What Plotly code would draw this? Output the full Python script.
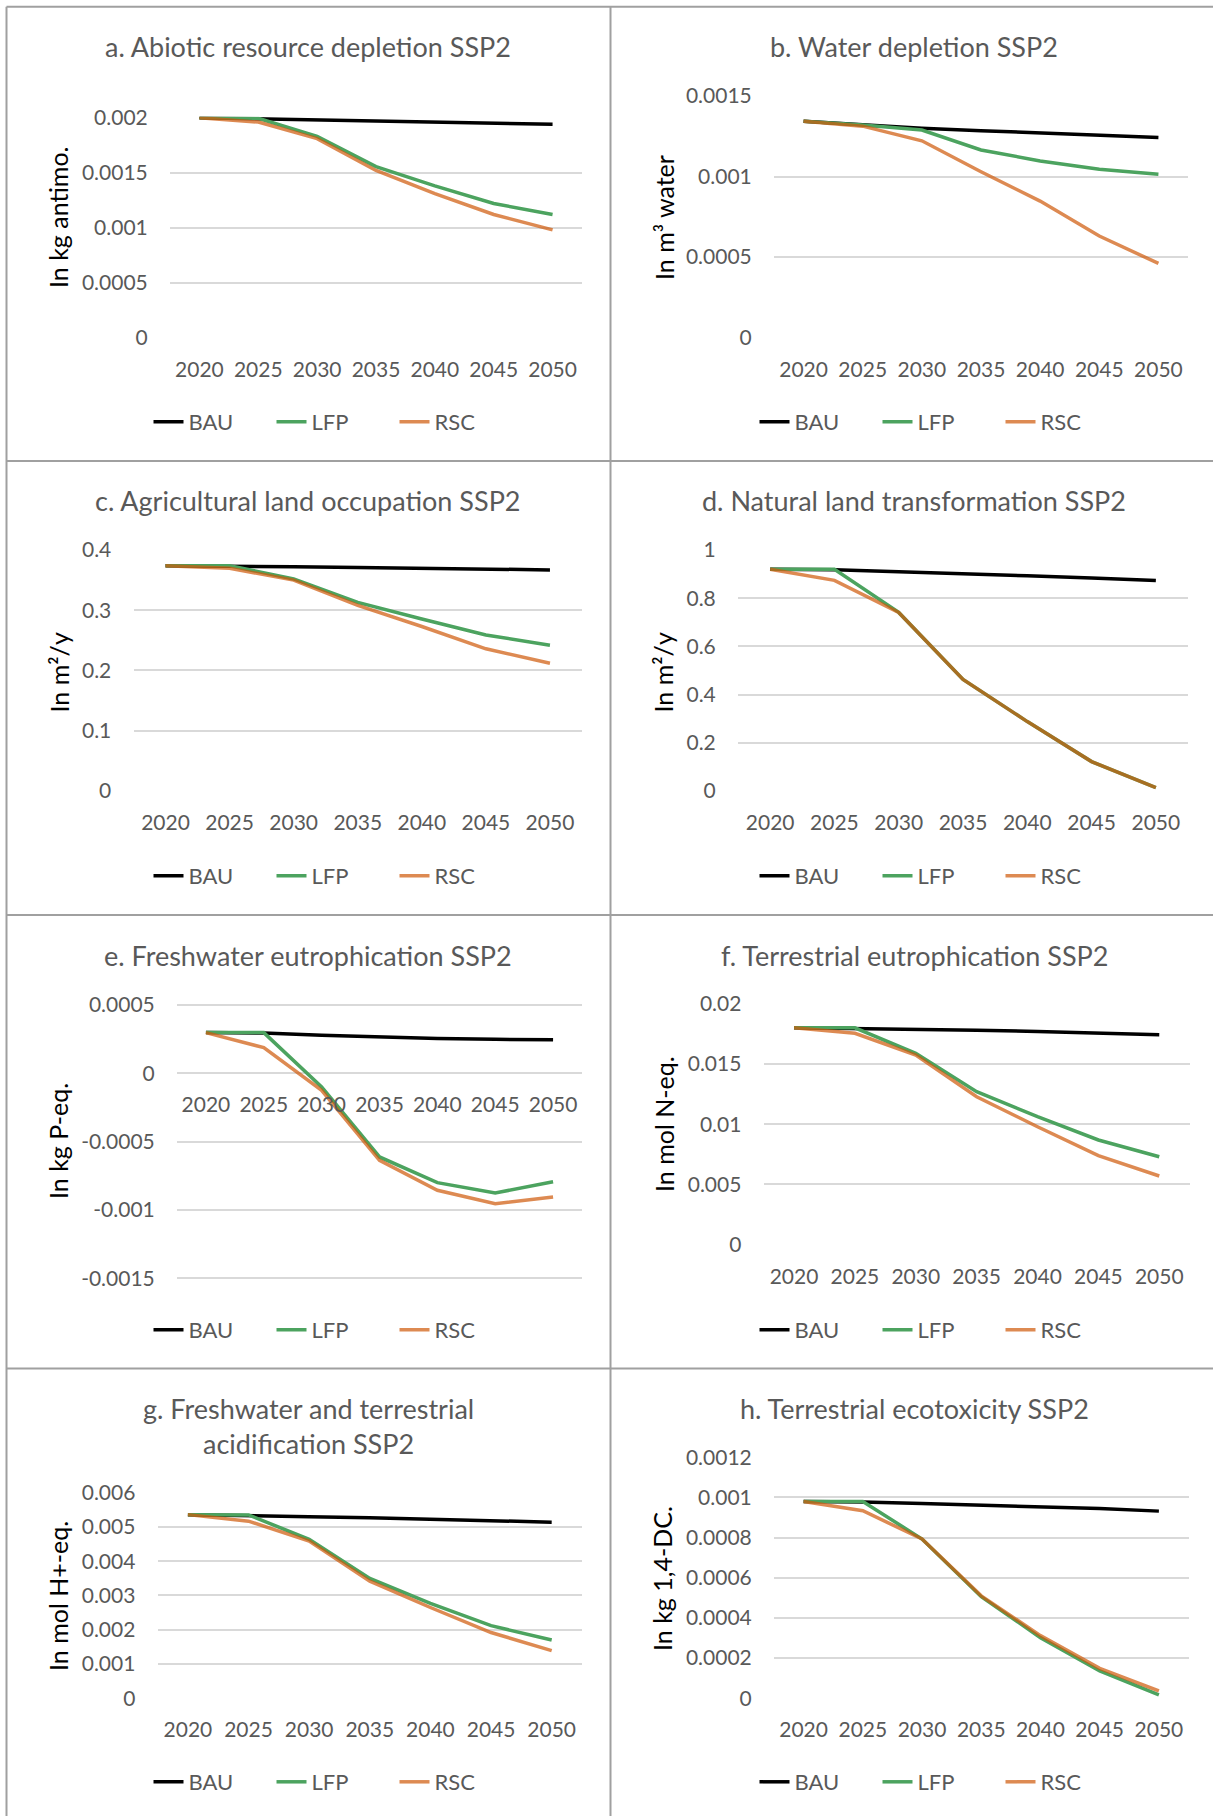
import plotly.graph_objects as go

# ---------------- data ----------------
years = ["2020", "2025", "2030", "2035", "2040", "2045", "2050"]
series_names = ["BAU", "LFP", "RSC"]

a_bau = [0.002, 0.00199, 0.00198, 0.00197, 0.00196, 0.00195, 0.00194]
a_lfp = [0.002, 0.001995, 0.00183, 0.001555, 0.00138, 0.00122, 0.00112]
a_rsc = [0.002, 0.00196, 0.00181, 0.00152, 0.00131, 0.00112, 0.00098]

b_bau = [0.001343, 0.001322, 0.0013, 0.001285, 0.001272, 0.001256, 0.001243]
b_lfp = [0.001343, 0.00132, 0.001289, 0.001165, 0.001097, 0.001045, 0.001014]
b_rsc = [0.001343, 0.001313, 0.001222, 0.00103, 0.000848, 0.000631, 0.000461]

c_bau = [0.374, 0.3735, 0.372, 0.371, 0.3695, 0.3685, 0.367]
c_lfp = [0.374, 0.374, 0.352, 0.313, 0.2855, 0.259, 0.242]
c_rsc = [0.374, 0.3696, 0.35, 0.308, 0.273, 0.236, 0.212]

d_bau = [0.92, 0.918, 0.91, 0.90, 0.893, 0.884, 0.873]
d_lfp = [0.92, 0.92, 0.741, 0.463, 0.288, 0.122, 0.014]
d_rsc = [0.92, 0.874, 0.741, 0.463, 0.288, 0.122, 0.014]

e_bau = [0.000298, 0.000295, 0.000278, 0.000263, 0.000254, 0.000249, 0.000246]
e_lfp = [0.000298, 0.000298, -0.0001, -0.000612, -0.0008, -0.000876, -0.000793]
e_rsc = [0.000298, 0.000188, -0.000124, -0.000637, -0.000856, -0.000954, -0.000905]

f_bau = [0.018, 0.01795, 0.0179, 0.0178, 0.0177, 0.01755, 0.01743]
f_lfp = [0.018, 0.018, 0.01588, 0.0127, 0.01062, 0.00869, 0.0073]
f_rsc = [0.018, 0.01754, 0.01574, 0.01228, 0.00979, 0.00739, 0.0057]

g_bau = [0.00536, 0.00534, 0.0053, 0.00527, 0.00523, 0.00519, 0.00514]
g_lfp = [0.00536, 0.00535, 0.00464, 0.0035, 0.00277, 0.00212, 0.0017]
g_rsc = [0.00536, 0.00517, 0.00459, 0.00342, 0.00265, 0.00192, 0.00139]

h_bau = [0.00098, 0.000978, 0.00097, 0.000962, 0.000955, 0.000945, 0.000932]
h_lfp = [0.00098, 0.00098, 0.000793, 0.000506, 0.000302, 0.000136, 0.0000166]
h_rsc = [0.00098, 0.000934, 0.000793, 0.00051, 0.000312, 0.000149, 0.0000365]

a_ticks = [0, 0.0005, 0.001, 0.0015, 0.002]
a_labels = ["0", "0.0005", "0.001", "0.0015", "0.002"]
b_ticks = [0, 0.0005, 0.001, 0.0015]
b_labels = ["0", "0.0005", "0.001", "0.0015"]
c_ticks = [0, 0.1, 0.2, 0.3, 0.4]
c_labels = ["0", "0.1", "0.2", "0.3", "0.4"]
d_ticks = [0, 0.2, 0.4, 0.6, 0.8, 1]
d_labels = ["0", "0.2", "0.4", "0.6", "0.8", "1"]
e_ticks = [-0.0015, -0.001, -0.0005, 0, 0.0005]
e_labels = ["-0.0015", "-0.001", "-0.0005", "0", "0.0005"]
f_ticks = [0, 0.005, 0.01, 0.015, 0.02]
f_labels = ["0", "0.005", "0.01", "0.015", "0.02"]
g_ticks = [0, 0.001, 0.002, 0.003, 0.004, 0.005, 0.006]
g_labels = ["0", "0.001", "0.002", "0.003", "0.004", "0.005", "0.006"]
h_ticks = [0, 0.0002, 0.0004, 0.0006, 0.0008, 0.001, 0.0012]
h_labels = ["0", "0.0002", "0.0004", "0.0006", "0.0008", "0.001", "0.0012"]

titles = [
    "a. Abiotic resource depletion SSP2",
    "b. Water depletion SSP2",
    "c. Agricultural land occupation SSP2",
    "d. Natural land transformation SSP2",
    "e. Freshwater eutrophication SSP2",
    "f. Terrestrial eutrophication SSP2",
    "g. Freshwater and terrestrial<br>acidification SSP2",
    "h. Terrestrial ecotoxicity SSP2",
]
y_titles = [
    "In kg antimo.", "In m³ water", "In m²/y", "In m²/y",
    "In kg P-eq.", "In mol N-eq.", "In mol H+-eq.", "In kg 1,4-DC.",
]

data_sets = [
    (a_bau, a_lfp, a_rsc, a_ticks, a_labels),
    (b_bau, b_lfp, b_rsc, b_ticks, b_labels),
    (c_bau, c_lfp, c_rsc, c_ticks, c_labels),
    (d_bau, d_lfp, d_rsc, d_ticks, d_labels),
    (e_bau, e_lfp, e_rsc, e_ticks, e_labels),
    (f_bau, f_lfp, f_rsc, f_ticks, f_labels),
    (g_bau, g_lfp, g_rsc, g_ticks, g_labels),
    (h_bau, h_lfp, h_rsc, h_ticks, h_labels),
]

# ---------------- layout geometry (pixels) ----------------
W, H = 1213, 1816
FONT = "Lato"
GREY = "#595959"
colors = ["#000000", "#4CA35F", "rgba(206,88,8,0.7)"]

# x0, x1, ytop, ybot, title_y, ytitle_x, ytitle_y, legend_x, legend_y, title_x
geo = [
    (170, 582, 117.7, 337.7, 46.7, 58, 217, 333, 422, 308),
    (774, 1188, 96, 337.7, 46.7, 664, 218, 939, 422, 914),
    (133.5, 582, 550, 791, 500, 58, 672.5, 333, 876, 308),
    (738, 1188, 550, 791, 500, 662, 672.5, 939, 876, 914),
    (177, 582, 1005, 1278.3, 955, 58, 1141, 333, 1330, 308),
    (763.6, 1189.7, 1003.7, 1244.7, 955, 664, 1124, 939, 1330, 914),
    (157.6, 582, 1492.7, 1698.3, 1425.5, 58, 1596, 333, 1782, 308),
    (774, 1188.5, 1457.3, 1698.3, 1408, 662, 1578, 939, 1782, 914),
]


def pxx(x):
    return x / W


def pyy(y):
    return 1 - y / H


fig = go.Figure()
layout = {}
annotations = []

for i, (ds, g) in enumerate(zip(data_sets, geo)):
    bau, lfp, rsc, tv, tt = ds
    x0, x1, yt, yb, ty, atx, aty, lx, ly, tx = g
    n = "" if i == 0 else str(i + 1)
    xa, ya, lg = "x" + n, "y" + n, "legend" + n
    for name, vals, col in zip(series_names, [bau, lfp, rsc], colors):
        fig.add_trace(go.Scatter(
            x=years, y=vals, name=name, mode="lines",
            line=dict(color=col, width=3.5),
            xaxis=xa, yaxis=ya, legend=lg, hoverinfo="skip",
        ))
    ymin, ymax = min(tv), max(tv)
    pad = (ymax - ymin) * 0.004
    span_px = yb - yt
    yt_p = yt - span_px * pad / (ymax - ymin)
    yb_p = yb + span_px * pad / (ymax - ymin)
    xax = dict(
        domain=[pxx(x0), pxx(x1)], anchor=ya, type="category",
        range=[-0.5, 6.5], showgrid=False, showline=False, zeroline=False,
        ticks="outside", ticklen=12, tickcolor="rgba(0,0,0,0)",
        tickfont=dict(family=FONT, size=21, color=GREY), fixedrange=True,
        automargin=False,
    )
    if ymin < 0:
        zero_px = yt + (yb - yt) * (ymax - 0) / (ymax - ymin)
        xax["anchor"] = "free"
        xax["position"] = pyy(zero_px)
    layout["xaxis" + n] = xax
    layout["yaxis" + n] = dict(
        domain=[pyy(yb_p), pyy(yt_p)], anchor=xa, range=[ymin - pad, ymax + pad],
        tickvals=tv, ticktext=tt, showgrid=True, gridcolor="#D9D9D9",
        gridwidth=1.5, zeroline=False, showline=False,
        ticks="outside", ticklen=17, tickcolor="rgba(0,0,0,0)",
        tickfont=dict(family=FONT, size=21, color=GREY), fixedrange=True,
        automargin=False,
    )
    layout[lg] = dict(
        orientation="h", x=pxx(lx), y=pyy(ly), xanchor="center",
        yanchor="middle", font=dict(family=FONT, size=22, color=GREY),
        bgcolor="rgba(0,0,0,0)", entrywidth=78, entrywidthmode="pixels",
    )
    annotations.append(dict(
        text=titles[i], x=pxx(tx), y=pyy(ty), xref="paper", yref="paper",
        xanchor="center", yanchor="middle", showarrow=False,
        font=dict(family=FONT, size=27, color=GREY),
    ))
    annotations.append(dict(
        text=y_titles[i], x=pxx(atx), y=pyy(aty), xref="paper", yref="paper",
        xanchor="center", yanchor="middle", showarrow=False, textangle=-90,
        font=dict(family=FONT, size=25, color="#000000"),
    ))

# table-like cell borders
border = dict(color="#A0A0A0", width=2)
shapes = []
for yline in [6.7, 461, 915, 1368.5]:
    shapes.append(dict(type="line", xref="paper", yref="paper",
                       x0=pxx(6.5), x1=1, y0=pyy(yline), y1=pyy(yline), line=border))
for xline in [6.5, 610.5]:
    shapes.append(dict(type="line", xref="paper", yref="paper",
                       x0=pxx(xline), x1=pxx(xline), y0=0, y1=pyy(6.7), line=border))

fig.update_layout(
    width=W, height=H,
    margin=dict(l=0, r=0, t=0, b=0, pad=0, autoexpand=False),
    paper_bgcolor="white", plot_bgcolor="white",
    showlegend=True, annotations=annotations, shapes=shapes,
    font=dict(family=FONT, color=GREY),
    **layout,
)

fig.write_html(
    "out.html",
    config={"displayModeBar": False, "staticPlot": False},
    post_script="document.body.style.margin='0';document.body.style.padding='0';",
)
